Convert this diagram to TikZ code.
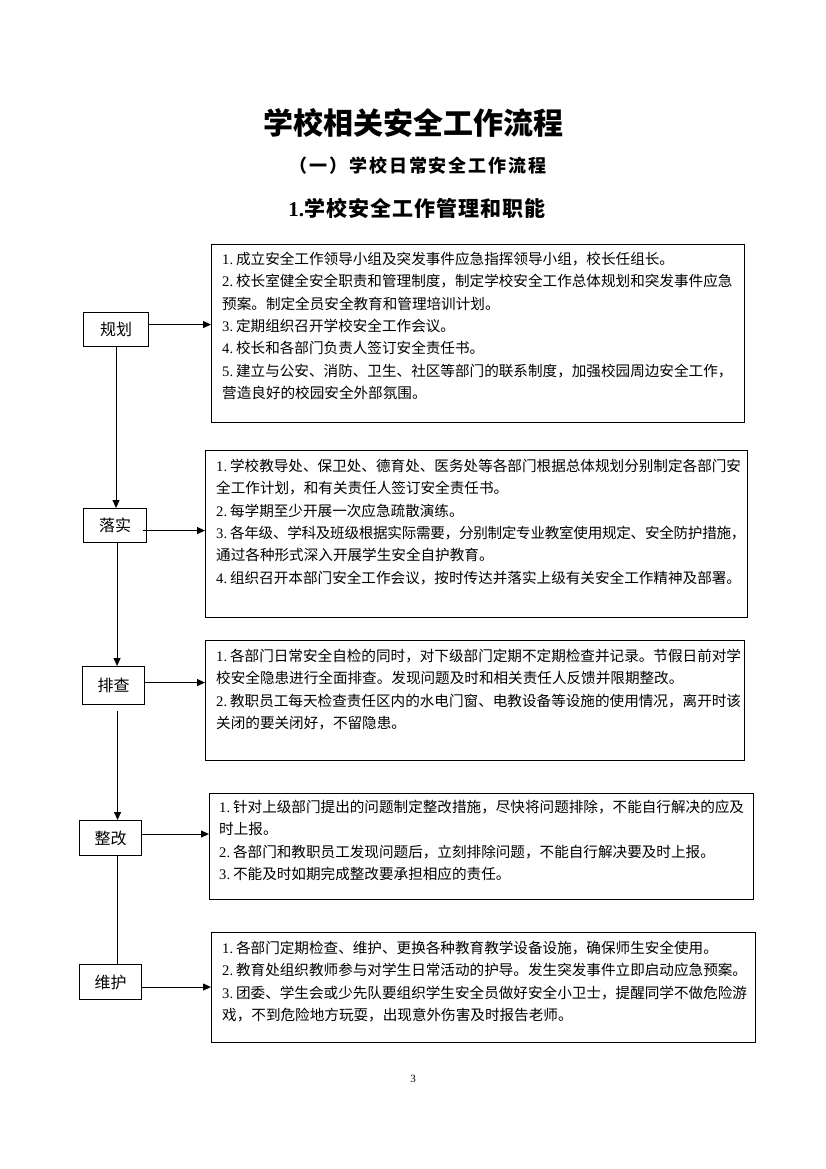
\documentclass[tikz,border=0pt]{standalone}
\usepackage{fontspec}
\setmainfont{Liberation Serif}
\newfontfamily\cjk{Noto Sans CJK SC}
\newfontfamily\cjktight{Noto Sans CJK SC}[LetterSpace=-2]
\newfontfamily\cjksub{Noto Sans CJK SC}[LetterSpace=11]
\newfontfamily\cjkhead{Noto Sans CJK SC}[LetterSpace=5]
\usetikzlibrary{arrows.meta}
\newcommand\itm[1]{{\rmfamily #1.}\hspace{0.2em}}
\tikzset{
  frame/.style={draw, line width=1.1pt, inner sep=0pt, anchor=north west},
  label/.style={frame, font=\cjk\fontsize{16}{18}\selectfont},
  body/.style={anchor=base west, inner sep=0pt, align=left, font=\cjk\fontsize{14.6}{22.3}\selectfont},
  conn/.style={line width=1.1pt},
  arr/.style={conn, -{Triangle[length=8pt,width=7pt]}}
}
\begin{document}
\begin{tikzpicture}[x=1pt,y=-1pt]
\useasboundingbox (0,0) rectangle (826,1169);
% headings
\node (title) at (413,123) {\cjk\bfseries\fontsize{30}{34}\selectfont 学校相关安全工作流程};
\node (sub) at (418,166) {\cjksub\bfseries\fontsize{18}{22}\selectfont （一）学校日常安全工作流程};
\node (head) at (417,208) {\cjkhead\bfseries\fontsize{21}{24}\selectfont {\rmfamily\bfseries 1.}学校安全工作管理和职能};
% text boxes
\node[frame, minimum width=533pt, minimum height=178pt] (b1) at (211,244) {};
\node[frame, minimum width=542pt, minimum height=167pt] (b2) at (205,450) {};
\node[frame, minimum width=539pt, minimum height=120pt] (b3) at (205,640) {};
\node[frame, minimum width=544pt, minimum height=106pt] (b4) at (209,793) {};
\node[frame, minimum width=544pt, minimum height=110pt] (b5) at (211,932) {};
% left labels
\node[label, minimum width=65pt, minimum height=34pt] (k1) at (83,312) {规划};
\node[label, minimum width=63pt, minimum height=34pt] (k2) at (83,508) {落实};
\node[label, minimum width=62pt, minimum height=38pt] (k3) at (82,666) {排查};
\node[label, minimum width=62pt, minimum height=35pt] (k4) at (79,820) {整改};
\node[label, minimum width=62pt, minimum height=35pt] (k5) at (79,964) {维护};
% texts (anchored at the baseline of the last line)
\node[body] (t1) at (222,398.3) {\itm{1}成立安全工作领导小组及突发事件应急指挥领导小组，校长任组长。\\
\itm{2}校长室健全安全职责和管理制度，制定学校安全工作总体规划和突发事件应急\\
预案。制定全员安全教育和管理培训计划。\\
\itm{3}定期组织召开学校安全工作会议。\\
\itm{4}校长和各部门负责人签订安全责任书。\\
\itm{5}建立与公安、消防、卫生、社区等部门的联系制度，加强校园周边安全工作，\\
营造良好的校园安全外部氛围。};
\node[body] (t2) at (216,583) {\itm{1}学校教导处、保卫处、德育处、医务处等各部门根据总体规划分别制定各部门安\\
全工作计划，和有关责任人签订安全责任书。\\
\itm{2}每学期至少开展一次应急疏散演练。\\
\itm{3}{\cjktight 各年级、学科及班级根据实际需要，分别制定专业教室使用规定、安全防护措施，}\\
通过各种形式深入开展学生安全自护教育。\\
\itm{4}组织召开本部门安全工作会议，按时传达并落实上级有关安全工作精神及部署。};
\node[body] (t3) at (216,728.4) {\itm{1}各部门日常安全自检的同时，对下级部门定期不定期检查并记录。节假日前对学\\
校安全隐患进行全面排查。发现问题及时和相关责任人反馈并限期整改。\\
\itm{2}教职员工每天检查责任区内的水电门窗、电教设备等设施的使用情况，离开时该\\
关闭的要关闭好，不留隐患。};
\node[body] (t4) at (219,879.4) {\itm{1}针对上级部门提出的问题制定整改措施，尽快将问题排除，不能自行解决的应及\\
时上报。\\
\itm{2}各部门和教职员工发现问题后，立刻排除问题，不能自行解决要及时上报。\\
\itm{3}不能及时如期完成整改要承担相应的责任。};
\node[body] (t5) at (222,1020.4) {\itm{1}各部门定期检查、维护、更换各种教育教学设备设施，确保师生安全使用。\\
\itm{2}教育处组织教师参与对学生日常活动的护导。发生突发事件立即启动应急预案。\\
\itm{3}团委、学生会或少先队要组织学生安全员做好安全小卫士，提醒同学不做危险游\\
戏，不到危险地方玩耍，出现意外伤害及时报告老师。};
% vertical connectors
\draw[arr] (k1.south) -- (k1.south |- k2.north);
\draw[arr] ([xshift=2pt]k2.south) -- ([xshift=2pt]k2.south |- k3.north);
\draw[arr, shorten <=6pt] ([xshift=4pt]k3.south) -- ([xshift=4pt]k3.south |- k4.north);
\draw[conn] ([xshift=7pt]k4.south) -- ([xshift=7pt]k4.south |- k5.north);
% horizontal connectors
\draw[arr] ([yshift=5pt]k1.east) -- ([yshift=5pt]k1.east -| b1.west);
\draw[arr] ([yshift=-5pt,xshift=-4pt]k2.east) -- ([yshift=-5pt]k2.east -| b2.west);
\draw[arr] ([yshift=3pt]k3.east) -- ([yshift=3pt]k3.east -| b3.west);
\draw[arr] ([yshift=4pt]k4.east) -- ([yshift=4pt]k4.east -| b4.west);
\draw[arr] ([yshift=-5pt]k5.east) -- ([yshift=-5pt]k5.east -| b5.west);
% page number
\node (pg) at (413,1079) {\fontsize{11}{13}\selectfont 3};
\end{tikzpicture}
\end{document}
